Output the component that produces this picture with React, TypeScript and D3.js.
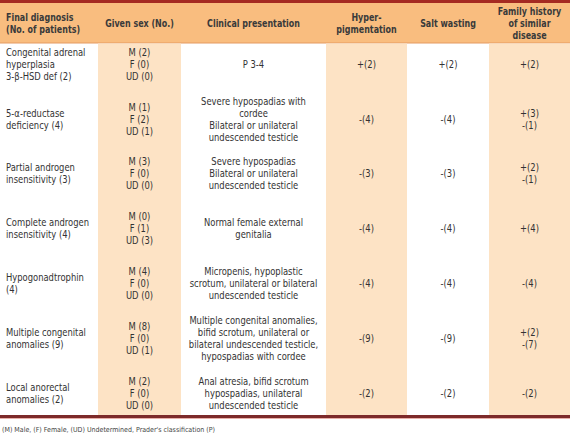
import React from "react";
import * as d3 from "d3";

const headers: string[][] = [
  ["Final diagnosis", "(No. of patients)"],
  ["Given sex (No.)"],
  ["Clinical presentation"],
  ["Hyper-", "pigmentation"],
  ["Salt wasting"],
  ["Family history", "of similar", "disease"],
];

const diagnoses: string[][] = [
  ["Congenital adrenal", "hyperplasia", "3-β-HSD def (2)"],
  ["5-α-reductase", "deficiency (4)"],
  ["Partial androgen", "insensitivity (3)"],
  ["Complete androgen", "insensitivity (4)"],
  ["Hypogonadtrophin", "(4)"],
  ["Multiple congenital", "anomalies (9)"],
  ["Local anorectal", "anomalies (2)"],
];

const maleCounts = [2, 1, 3, 0, 4, 8, 2];
const femaleCounts = [0, 2, 0, 1, 0, 0, 0];
const undeterminedCounts = [0, 1, 0, 3, 0, 1, 0];

const clinical: string[][] = [
  ["P 3-4"],
  ["Severe hypospadias with", "cordee", "Bilateral or unilateral", "undescended testicle"],
  ["Severe hypospadias", "Bilateral or unilateral", "undescended testicle"],
  ["Normal female external", "genitalia"],
  ["Micropenis, hypoplastic", "scrotum, unilateral or bilateral", "undescended testicle"],
  ["Multiple congenital anomalies,", "bifid scrotum, unilateral or", "bilateral undescended testicle,", "hypospadias with cordee"],
  ["Anal atresia, bifid scrotum", "hypospadias, unilateral", "undescended testicle"],
];

const hyperpigmentation = ["+(2)", "-(4)", "-(3)", "-(4)", "-(4)", "-(9)", "-(2)"];
const saltWasting = ["+(2)", "-(4)", "-(3)", "-(4)", "-(4)", "-(9)", "-(2)"];
const familyHistory: string[][] = [
  ["+(2)"],
  ["+(3)", "-(1)"],
  ["+(2)", "-(1)"],
  ["+(4)"],
  ["-(4)"],
  ["+(2)", "-(7)"],
  ["-(2)"],
];

const footnote = "(M) Male, (F) Female, (UD) Undetermined, Prader's classification (P)";

const columnWidths = [98, 83, 145, 81, 82, 81];
const shadedColumns = [1, 3, 5];

const W = 570;
const H = 437;
const FONT = "'DejaVu Sans Condensed', 'Liberation Sans Narrow', Arial, sans-serif";
const LINE = 12;

export default function App() {
  const edges = d3.cumsum([0, ...columnWidths]);
  const colX = (i: number) => edges[i];
  const colMid = (i: number) => (edges[i] + edges[i + 1]) / 2;

  const headerTop = 3;
  const headerBottom = 43;
  const bodyBottom = 415;

  const rows = d3.range(diagnoses.length);
  const yRow = d3.scalePoint<number>().domain(rows).range([64, 393]);

  const sexLines = rows.map((i) => [
    `M (${maleCounts[i]})`,
    `F (${femaleCounts[i]})`,
    `UD (${undeterminedCounts[i]})`,
  ]);

  const cells: string[][][] = rows.map((i) => [
    diagnoses[i],
    sexLines[i],
    clinical[i],
    [hyperpigmentation[i]],
    [saltWasting[i]],
    familyHistory[i],
  ]);

  const textBlock = (
    lines: string[],
    cx: number,
    cy: number,
    anchor: string,
    key: string,
    weight: string,
    size: number,
    sx: number,
    fill: string
  ) => {
    const y0 = cy - ((lines.length - 1) * LINE) / 2;
    return (
      <text
        key={key}
        transform={`translate(${cx},0) scale(${sx},1)`}
        textAnchor={anchor}
        fontFamily={FONT}
        fontSize={size}
        fontWeight={weight}
        fill={fill}
      >
        {lines.map((l, k) => (
          <tspan key={k} x={0} y={y0 + k * LINE} dy="0.35em">
            {l}
          </tspan>
        ))}
      </text>
    );
  };

  return (
    <svg width={W} height={H} style={{ position: "absolute", left: 0, top: 0, background: "#fff" }}>
      {/* header band */}
      <rect x={0} y={headerTop} width={W} height={headerBottom - headerTop} fill="#f9bd7f" />
      <rect x={0} y={0} width={W} height={headerTop} fill="#a52a22" />
      <line x1={0} x2={W} y1={headerBottom} y2={headerBottom} stroke="#e49a62" strokeWidth={1} />
      {edges.slice(1, -1).map((x, i) => (
        <line key={`d${i}`} x1={x} x2={x} y1={headerTop} y2={headerBottom} stroke="#fff2e0" strokeWidth={1.5} />
      ))}
      {/* shaded body columns */}
      {shadedColumns.map((c) => (
        <rect
          key={`s${c}`}
          x={colX(c)}
          y={headerBottom + 0.5}
          width={columnWidths[c]}
          height={bodyBottom - headerBottom - 0.5}
          fill="#fde3c5"
        />
      ))}
      {/* header text */}
      {headers.map((h, c) =>
        textBlock(h, c === 0 ? 6 : colMid(c), (headerTop + headerBottom) / 2, c === 0 ? "start" : "middle", `h${c}`, "bold", 10.8, 0.82, "#3a3a3a")
      )}
      {/* body */}
      {cells.map((row, r) =>
        row.map((lines, c) =>
          textBlock(lines, c === 0 ? 6 : colMid(c), yRow(r) as number, c === 0 ? "start" : "middle", `c${r}-${c}`, "normal", 10.6, 0.88, "#333")
        )
      )}
      {/* bottom rule */}
      <rect x={0} y={bodyBottom} width={W} height={3} fill="#7d2a2a" />
      <line x1={0} x2={W} y1={bodyBottom + 3.5} y2={bodyBottom + 3.5} stroke="#e8b0a8" strokeWidth={1} />
      <text x={2} y={430} dy="0.35em" fontFamily={FONT} fontSize={7} fill="#444">
        {footnote}
      </text>
    </svg>
  );
}
